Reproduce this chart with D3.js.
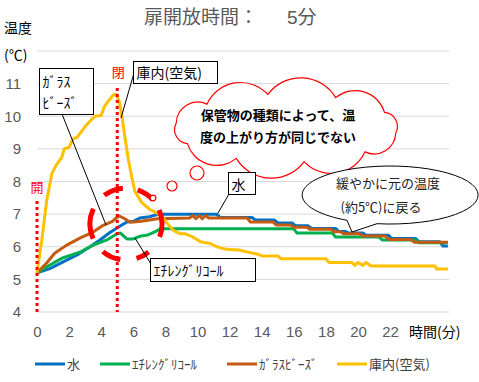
<!DOCTYPE html>
<html><head><meta charset="utf-8">
<script src="https://cdn.jsdelivr.net/npm/d3@7"></script>
<style>
body{margin:0;background:#fff;}
svg{display:block;font-family:"Noto Sans CJK JP","Noto Sans",sans-serif;}
</style></head>
<body><svg id="c" width="479" height="382"></svg>
<script>
// ---- data ----
const title = "扉開放時間：";
const titleTail = "5分";
const xTicks = [0,2,4,6,8,10,12,14,16,18,20,22];
const yTicks = [4,5,6,7,8,9,10,11];
const gridVals = [4,5,6,7,8,9,10,11,12];
const seriesNames = ["水","ｴﾁﾚﾝｸﾞﾘｺｰﾙ","ｶﾞﾗｽﾋﾞｰｽﾞ","庫内(空気)"];
const seriesColors = ["#0070C0","#00B050","#C55A11","#FFC000"];

const water = [[0,5.2],[0.8,5.33],[1.6,5.53],[2.5,5.75],[3.3,6.0],[3.9,6.2],[4.5,6.42],[5.05,6.6],[5.6,6.76],[6.0,6.78],[6.4,6.88],[7.0,6.92],[7.6,7.0],[11.2,7.0],[11.4,6.9],[13.4,6.9],[13.6,6.82],[14.8,6.82],[15.0,6.73],[15.9,6.73],[16.1,6.64],[16.9,6.64],[17.1,6.56],[18.6,6.56],[18.8,6.47],[19.2,6.47],[19.4,6.42],[20.3,6.42],[20.5,6.35],[21.9,6.35],[22.1,6.25],[23.6,6.25],[23.8,6.15],[25.1,6.15],[25.3,6.02],[25.6,6.02]];
const glycol = [[0,5.2],[0.8,5.44],[1.6,5.66],[2.7,5.84],[3.5,6.05],[4.4,6.22],[5.0,6.4],[5.2,6.42],[5.6,6.24],[6.0,6.24],[6.4,6.32],[6.9,6.36],[7.3,6.45],[7.7,6.55],[16.0,6.55],[16.2,6.42],[18.4,6.42],[18.6,6.3],[21.3,6.3],[21.5,6.21],[23.6,6.21],[23.8,6.12],[25.6,6.12]];
const beads = [[0,5.2],[0.6,5.5],[1.1,5.8],[1.85,6.05],[2.7,6.27],[3.5,6.45],[4.1,6.65],[4.7,6.78],[5.1,6.95],[5.5,6.85],[5.8,6.75],[6.5,6.78],[7.0,6.82],[7.5,6.86],[9.5,6.88],[9.7,6.96],[9.9,6.86],[10.1,6.96],[10.3,6.86],[10.5,6.96],[10.7,6.88],[13.1,6.88],[13.3,6.76],[14.7,6.76],[14.9,6.67],[15.8,6.67],[16.0,6.6],[16.8,6.6],[17.0,6.54],[18.3,6.54],[18.5,6.46],[18.9,6.46],[19.1,6.4],[20.1,6.4],[20.3,6.33],[21.7,6.33],[21.9,6.22],[23.3,6.22],[23.5,6.14],[25.6,6.14]];
const air = [[0,5.2],[0.3,6.2],[0.6,7.4],[0.93,8.25],[1.2,8.5],[1.55,8.75],[1.7,9.0],[2.0,9.05],[2.24,9.3],[2.5,9.35],[2.9,9.62],[3.2,9.8],[3.6,10.0],[4.0,10.02],[4.2,10.3],[4.5,10.5],[4.75,10.65],[4.9,10.68],[5.1,10.5],[5.3,10.0],[5.5,9.27],[5.7,8.66],[5.9,8.14],[6.1,7.7],[6.5,7.37],[7.0,7.15],[7.5,7.03],[7.85,6.88],[8.2,6.67],[8.5,6.5],[8.9,6.4],[9.2,6.4],[9.7,6.3],[10.2,6.15],[10.8,6.1],[11.2,6.0],[11.8,5.92],[12.6,5.9],[13.0,5.85],[13.7,5.78],[14.0,5.72],[15.0,5.72],[15.2,5.63],[18.0,5.63],[18.2,5.52],[19.6,5.52],[19.8,5.43],[20.0,5.52],[20.3,5.43],[20.5,5.52],[20.8,5.41],[24.8,5.41],[24.9,5.32],[25.6,5.32]];
const allSeries = [water, glycol, beads, air];

const openTime = 0, closeTime = 5;

// ---- drawing ----
const svg = d3.select("#c");
const x = d3.scaleLinear().domain([0, 25.67]).range([37, 449]);
const y = d3.scaleLinear().domain([4, 12]).range([312, 51]);
const gray = "#595959";

// gridlines
svg.append("g").selectAll("line").data(gridVals).join("line")
  .attr("x1", x(0)).attr("x2", x(25.67))
  .attr("y1", d => y(d)).attr("y2", d => y(d))
  .attr("stroke", "#D9D9D9").attr("stroke-width", 1);

// axes (text only)
const yAxis = d3.axisLeft(y).tickValues(yTicks).tickSize(0).tickPadding(0).tickFormat(d3.format("d"));
const ya = svg.append("g").attr("transform", "translate(21,0)").call(yAxis);
ya.select(".domain").remove();
ya.selectAll("text").attr("fill", gray).attr("font-size", 15).attr("font-family", "Liberation Sans, Arial, sans-serif");

const xAxis = d3.axisBottom(x).tickValues(xTicks).tickSize(0).tickPadding(0).tickFormat(d3.format("d"));
const xa = svg.append("g").attr("transform", "translate(0,326)").call(xAxis);
xa.select(".domain").remove();
xa.selectAll("text").attr("fill", gray).attr("font-size", 15).attr("font-family", "Liberation Sans, Arial, sans-serif");

// titles
const t = svg.append("text").attr("y", 24).attr("fill", gray).attr("font-size", 19);
t.append("tspan").attr("x", 144).text(title);
t.append("tspan").attr("x", 287).attr("font-family","Liberation Sans, Arial, sans-serif").text(titleTail.slice(0,1));
t.append("tspan").text(titleTail.slice(1));
svg.append("text").attr("x", 4).attr("y", 33).attr("font-size", 14).attr("fill", "#000").text("温度");
svg.append("text").attr("x", 4).attr("y", 60).attr("font-size", 14).attr("fill", "#000").text("(℃)");
svg.append("text").attr("x", 409).attr("y", 337).attr("font-size", 14).attr("fill", "#000").text("時間(分)");

// series lines
const line = d3.line().x(d => x(d[0])).y(d => y(d[1]));
svg.append("g").selectAll("path").data(allSeries).join("path")
  .attr("d", line).attr("fill", "none")
  .attr("stroke", (d,i) => seriesColors[i]).attr("stroke-width", 3)
  .attr("stroke-linejoin", "round");

// open / close dotted lines
svg.append("line").attr("x1", x(openTime)).attr("x2", x(openTime)).attr("y1", 201).attr("y2", y(4))
  .attr("stroke", "#FF0000").attr("stroke-width", 3).attr("stroke-dasharray", "3,3");
svg.append("line").attr("x1", x(closeTime)).attr("x2", x(closeTime)).attr("y1", 88).attr("y2", y(4))
  .attr("stroke", "#FF0000").attr("stroke-width", 3).attr("stroke-dasharray", "3,3");
svg.append("text").attr("x", x(openTime)).attr("y", 192).attr("text-anchor","middle").attr("font-size", 13).attr("fill", "#FF0000").text("開");
svg.append("text").attr("x", x(closeTime)+1).attr("y", 77).attr("text-anchor","middle").attr("font-size", 13).attr("fill", "#FF0000").text("閉");

// dashed red circle (arcs)
const dashArcs = [[246,295],[323,355],[379,408],[67,111],[141,163],[189,220]];
const arcGen = d3.arc().innerRadius(33.5).outerRadius(38.5);
svg.append("g").attr("transform", "translate(126,224)").selectAll("path").data(dashArcs).join("path")
  .attr("d", d => arcGen({startAngle: d[0]*Math.PI/180, endAngle: d[1]*Math.PI/180}))
  .attr("fill", "#FF0000");

// cloud
function cloudPath(cx, cy, rx, ry, n, k) {
  const pts = d3.range(n).map(i => {
    const a = Math.PI + 2*Math.PI*i/n + 0.15;
    return [cx + rx*Math.cos(a), cy + ry*Math.sin(a)];
  });
  let p = `M${pts[0][0]},${pts[0][1]}`;
  for (let i = 0; i < n; i++) {
    const a = pts[i], b = pts[(i+1)%n];
    const c = Math.hypot(b[0]-a[0], b[1]-a[1]);
    const r = c*k;
    p += `A${r},${r} 0 0 1 ${b[0]},${b[1]}`;
  }
  return p + "Z";
}
svg.append("path").attr("d", cloudPath(286, 128, 111, 34, 10, 0.6))
  .attr("fill", "#fff").attr("stroke", "#FF0000").attr("stroke-width", 1.2);
svg.append("text").attr("x", 278).attr("y", 120).attr("text-anchor","middle").attr("font-size", 13).attr("font-weight","bold").text("保管物の種類によって、温");
svg.append("text").attr("x", 278).attr("y", 142).attr("text-anchor","middle").attr("font-size", 13).attr("font-weight","bold").text("度の上がり方が同じでない");
[[197,173,7],[172,186,5],[153,198,2.8]].forEach(c => {
  svg.append("circle").attr("cx", c[0]).attr("cy", c[1]).attr("r", c[2])
    .attr("fill", "#fff").attr("stroke", "#FF0000").attr("stroke-width", 1.2);
});

// ellipse callout
svg.append("path").attr("d", "M377,223.7 A88,29 0 1 0 347,220.3 L352,232 Z")
  .attr("fill", "#fff").attr("stroke", "#000").attr("stroke-width", 1);
svg.append("text").attr("x", 388).attr("y", 188).attr("text-anchor","middle").attr("font-size", 13).attr("fill","#222").text("緩やかに元の温度");
svg.append("text").attr("x", 381).attr("y", 212).attr("text-anchor","middle").attr("font-size", 13).attr("fill","#222").text("(約5℃)に戻る");

// label boxes with pointers
function box(x0, y0, w, h, lines, fs, px, py, qx, qy) {
  svg.append("line").attr("x1", px).attr("y1", py).attr("x2", qx).attr("y2", qy).attr("stroke", "#000").attr("stroke-width", 1);
  svg.append("rect").attr("x", x0).attr("y", y0).attr("width", w).attr("height", h)
    .attr("fill", "#fff").attr("stroke", "#000").attr("stroke-width", 1);
  lines.forEach((l, i) => svg.append("text").attr("x", x0+3).attr("y", l[1]).attr("font-size", fs).attr("fill","#000").text(l[0]));
}
box(39.5, 68.5, 54, 46, [["ｶﾞﾗｽ",87],["ﾋﾞｰｽﾞ",108]], 14, 62, 114, 106, 225);
box(133.5, 61.5, 84, 22, [["庫内(空気)",78]], 14, 134, 73, 121, 118);
box(228.5, 172.5, 27, 22, [["水",190]], 14, 229, 194, 218, 213);
box(150.5, 258.5, 105, 23, [["ｴﾁﾚﾝｸﾞﾘｺｰﾙ",276]], 14, 135, 238, 151, 264);

// legend
const legX = [35, 100, 227, 337];
const lg = svg.append("g").selectAll("g").data(seriesNames).join("g")
  .attr("transform", (d,i) => `translate(${legX[i]},364)`);
lg.append("line").attr("x1", 0).attr("x2", 30).attr("stroke", (d,i) => seriesColors[i]).attr("stroke-width", 3);
lg.append("text").attr("x", 32).attr("y", 5).attr("font-size", 13).attr("fill", "#404040").text(d => d);
</script></body></html>
